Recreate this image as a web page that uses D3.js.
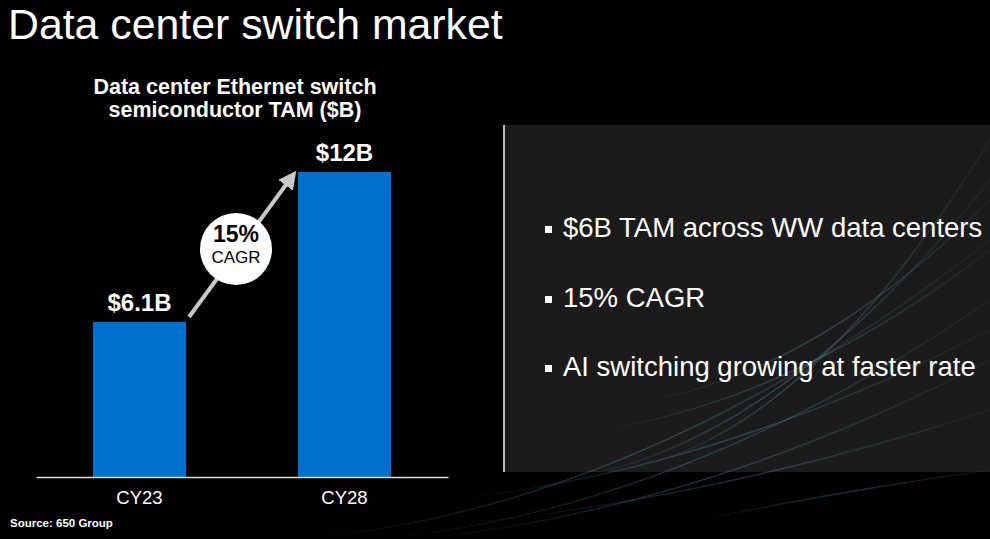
<!DOCTYPE html>
<html>
<head>
<meta charset="utf-8">
<script src="https://cdn.jsdelivr.net/npm/d3@7"></script>
<style>
  html, body { margin: 0; padding: 0; background: #000; }
  svg { display: block; font-family: "Liberation Sans", Arial, sans-serif; }
</style>
</head>
<body>
<svg width="990" height="539"></svg>
<script>
// data
const categories = ["CY23", "CY28"]
const values = [6.1, 12]
const valueLabels = ["$6.1B", "$12B"]
const cagrText = ["15%", "CAGR"]
const bullets = ["$6B TAM across WW data centers", "15% CAGR", "AI switching growing at faster rate"]

const svg = d3.select("svg")

// background
svg.append("rect").attr("width", 990).attr("height", 539).attr("fill", "#000")

const defs = svg.append("defs")
const streak = defs.append("linearGradient").attr("id", "streak").attr("x1", "0%").attr("x2", "100%")
streak.append("stop").attr("offset", "0%").attr("stop-color", "#5fa8c0").attr("stop-opacity", 0)
streak.append("stop").attr("offset", "50%").attr("stop-color", "#5fa8c0").attr("stop-opacity", 0.3)
streak.append("stop").attr("offset", "100%").attr("stop-color", "#5fa8c0").attr("stop-opacity", 0.05)

defs.append("marker").attr("id", "head")
    .attr("viewBox", "0 0 10 10").attr("refX", 5).attr("refY", 5)
    .attr("markerWidth", 4.5).attr("markerHeight", 4.5).attr("orient", "auto")
    .append("path").attr("d", "M0,0 L10,5 L0,10 z").attr("fill", "#c8c8c8")

// right panel
svg.append("rect").attr("x", 503).attr("y", 125).attr("width", 487).attr("height", 347).attr("fill", "#1b1b1b")

// decorative streaks (background art)
const streaks = [
    [380, 539, 990, 300], [420, 539, 990, 360], [500, 520, 990, 410], [300, 539, 990, 240],
    [560, 480, 990, 180], [620, 470, 990, 140], [700, 520, 990, 470], [450, 500, 990, 330],
    [600, 430, 990, 250], [650, 400, 990, 200]
]
svg.append("g").selectAll("path").data(streaks).join("path")
    .attr("d", d => "M" + d[0] + "," + d[1] + " Q" + ((d[0] + d[2]) / 2) + "," + (d[1] - 30) + " " + d[2] + "," + d[3])
    .attr("fill", "none").attr("stroke", "url(#streak)").attr("stroke-width", 1.5)

svg.append("line").attr("x1", 504).attr("x2", 504).attr("y1", 125).attr("y2", 472)
    .attr("stroke", "#bdbdbd").attr("stroke-width", 2)

// slide title
svg.append("text").attr("x", 8).attr("y", 39).attr("fill", "#fff")
    .attr("font-size", 42.8).text("Data center switch market")

// chart title
svg.append("text").attr("x", 235).attr("y", 94).attr("fill", "#fff").attr("text-anchor", "middle")
    .attr("font-size", 21.5).attr("font-weight", "bold").text("Data center Ethernet switch")
svg.append("text").attr("x", 235).attr("y", 117).attr("fill", "#fff").attr("text-anchor", "middle")
    .attr("font-size", 21.5).attr("font-weight", "bold").text("semiconductor TAM ($B)")

// scales
const x = d3.scaleBand().domain(categories).range([36, 448]).paddingInner(0.546).paddingOuter(0.278)
const y = d3.scaleLinear().domain([0, 12]).range([477, 172])

svg.append("g").selectAll("rect").data(values).join("rect")
    .attr("x", (d, i) => x(categories[i]))
    .attr("y", d => y(d))
    .attr("width", x.bandwidth())
    .attr("height", d => y(0) - y(d))
    .attr("fill", "#0070cc")

// baseline axis
const axis = svg.append("g").attr("transform", "translate(0," + y(0) + ")")
    .call(d3.axisBottom(x).tickSize(0).tickPadding(14))
axis.select(".domain").attr("stroke", "#d9d9d9").attr("stroke-width", 1.5)
axis.selectAll("text").attr("fill", "#fff").attr("font-size", 18.5)
    .attr("font-family", "Liberation Sans, Arial, sans-serif")

// value labels
svg.append("g").selectAll("text").data(values).join("text")
    .attr("x", (d, i) => x(categories[i]) + x.bandwidth() / 2)
    .attr("y", d => y(d) - 11)
    .attr("text-anchor", "middle").attr("fill", "#fff")
    .attr("font-size", 24).attr("font-weight", "bold")
    .text((d, i) => valueLabels[i])

// CAGR arrow
const x0 = x(categories[0]) + x.bandwidth() + 3, y0 = y(values[0]) - 5
const x1 = x(categories[1]) - 7, y1 = y(values[1]) + 6
svg.append("line").attr("x1", x0).attr("y1", y0).attr("x2", x1).attr("y2", y1)
    .attr("stroke", "#c8c8c8").attr("stroke-width", 4).attr("marker-end", "url(#head)")

const cx = 236, cy = 249
svg.append("circle").attr("cx", cx).attr("cy", cy).attr("r", 36).attr("fill", "#fff")
svg.append("text").attr("x", cx).attr("y", cy - 7).attr("text-anchor", "middle")
    .attr("font-size", 23).attr("font-weight", "bold").attr("fill", "#000").text(cagrText[0])
svg.append("text").attr("x", cx).attr("y", cy + 14).attr("text-anchor", "middle")
    .attr("font-size", 17).attr("fill", "#000").text(cagrText[1])

// bullets
const by = [237, 307, 376]
const bg = svg.append("g").selectAll("g").data(bullets).join("g")
    .attr("transform", (d, i) => "translate(0," + by[i] + ")")
bg.append("rect").attr("x", 545).attr("y", -11).attr("width", 7).attr("height", 7).attr("fill", "#fff")
bg.append("text").attr("x", 563).attr("y", 0).attr("fill", "#fff").attr("font-size", 27.5).text(d => d)

// source
svg.append("text").attr("x", 10).attr("y", 527).attr("fill", "#fff").attr("font-size", 11.5)
    .attr("font-weight", "bold").text("Source: 650 Group")
</script>
</body>
</html>
